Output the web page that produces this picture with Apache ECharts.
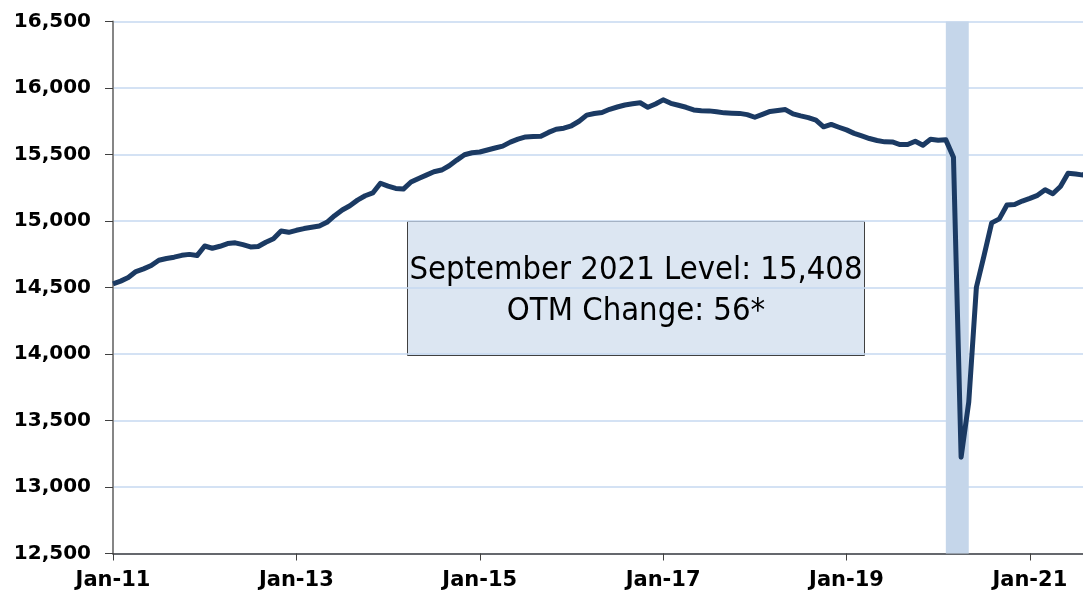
<!DOCTYPE html>
<html>
<head>
<meta charset="utf-8">
<script src="https://cdn.jsdelivr.net/npm/echarts@6/dist/echarts.min.js"></script>
<style>
  html, body { margin: 0; padding: 0; background: #fff; overflow: hidden; }
  /* chart is a bit wider than the window: the last month (Sep-21) falls just past the right edge, as in the original */
  #chart { width: 1091px; height: 594px; }
</style>
</head>
<body>
<div id="chart"></div>
<script>
// Employment level (thousands), monthly Jan-11 .. Sep-21
const startYear = 2011;
const levels = [
  14528, 14548, 14575, 14620, 14640, 14665, 14705, 14718, 14728, 14742, 14749, 14740,
  14812, 14795, 14810, 14830, 14836, 14822, 14805, 14808, 14840, 14866, 14925, 14915,
  14930, 14943, 14953, 14962, 14990, 15040, 15083, 15115, 15157, 15190, 15211, 15284,
  15262, 15245, 15240, 15293, 15320, 15345, 15370, 15383, 15415, 15458, 15498, 15513,
  15519, 15534, 15549, 15563, 15593, 15615, 15632, 15636, 15638, 15666, 15690, 15698,
  15716, 15750, 15796, 15808, 15816, 15840, 15857, 15872, 15881, 15889, 15855, 15880,
  15911, 15885, 15870, 15855, 15835, 15829, 15828, 15821, 15813, 15811, 15809, 15800,
  15780, 15802, 15824, 15831, 15838, 15805, 15790, 15777, 15758, 15708, 15726, 15705,
  15685, 15659, 15640, 15620, 15605, 15595, 15594, 15575, 15575, 15600, 15570, 15615,
  15607, 15610, 15480, 13224, 13638, 14502, 14740, 14986, 15016, 15120, 15124, 15150,
  15170, 15193, 15235, 15205, 15259, 15359, 15353, 15345, 15408
];
const recession = ['Feb-20', 'May-20'];
const boxLines = ['September 2021 Level: 15,408', 'OTM Change: 56*'];

const monthNames = ['Jan','Feb','Mar','Apr','May','Jun','Jul','Aug','Sep','Oct','Nov','Dec'];
const months = levels.map((_, i) => {
  const y = startYear + Math.floor(i / 12);
  return monthNames[i % 12] + '-' + String(y).slice(2);
});

const chart = echarts.init(document.getElementById('chart'));
const labelFont = { color: '#000', fontFamily: 'DejaVu Sans', fontWeight: 'bold', fontSize: 20 };
const every2y = (idx) => idx % 24 === 0;

chart.setOption({
  animation: false,
  backgroundColor: '#fff',
  grid: { left: 113, top: 21.5, bottom: 40.5, right: 0 },
  xAxis: {
    type: 'category',
    data: months,
    boundaryGap: false,
    axisLine: { lineStyle: { color: '#404040', width: 1.5 } },
    axisTick: { interval: every2y, length: 7, lineStyle: { color: '#404040' } },
    axisLabel: { interval: every2y, margin: 17, ...labelFont, fontSize: 21 },
    splitLine: { show: false }
  },
  yAxis: {
    type: 'value',
    min: 12500, max: 16500, interval: 500,
    axisLine: { show: true, lineStyle: { color: '#868686', width: 2 } },
    axisTick: { show: true, length: 8, lineStyle: { color: '#404040' } },
    axisLabel: {
      margin: 22, ...labelFont,
      formatter: (v) => v.toLocaleString('en-US')
    },
    splitLine: { lineStyle: { color: '#c6d9f0', width: 1.5 } }
  },
  series: [{
    type: 'line',
    data: levels,
    showSymbol: false,
    lineStyle: { color: '#1b3a63', width: 5, join: 'round' },
    z: 3,
    markArea: {
      silent: true,
      itemStyle: { color: '#c5d6ea' },
      data: [[{ xAxis: recession[0] }, { xAxis: recession[1] }]]
    }
  }],
  graphic: [{
    type: 'group',
    left: 407, top: 221,
    z: 10,
    children: [{
      type: 'rect',
      shape: { x: 0, y: 0, width: 457, height: 134 },
      style: { fill: '#dce6f2', stroke: '#404040', lineWidth: 1 }
    }, {
      type: 'text',
      x: 228.5, y: 70,
      style: {
        text: boxLines.join('\n'),
        fontFamily: 'DejaVu Sans Condensed, DejaVu Sans',
        fontSize: 32.5,
        lineHeight: 41,
        fill: '#000',
        align: 'center',
        verticalAlign: 'middle'
      }
    }]
  }]
});
</script>
</body>
</html>
